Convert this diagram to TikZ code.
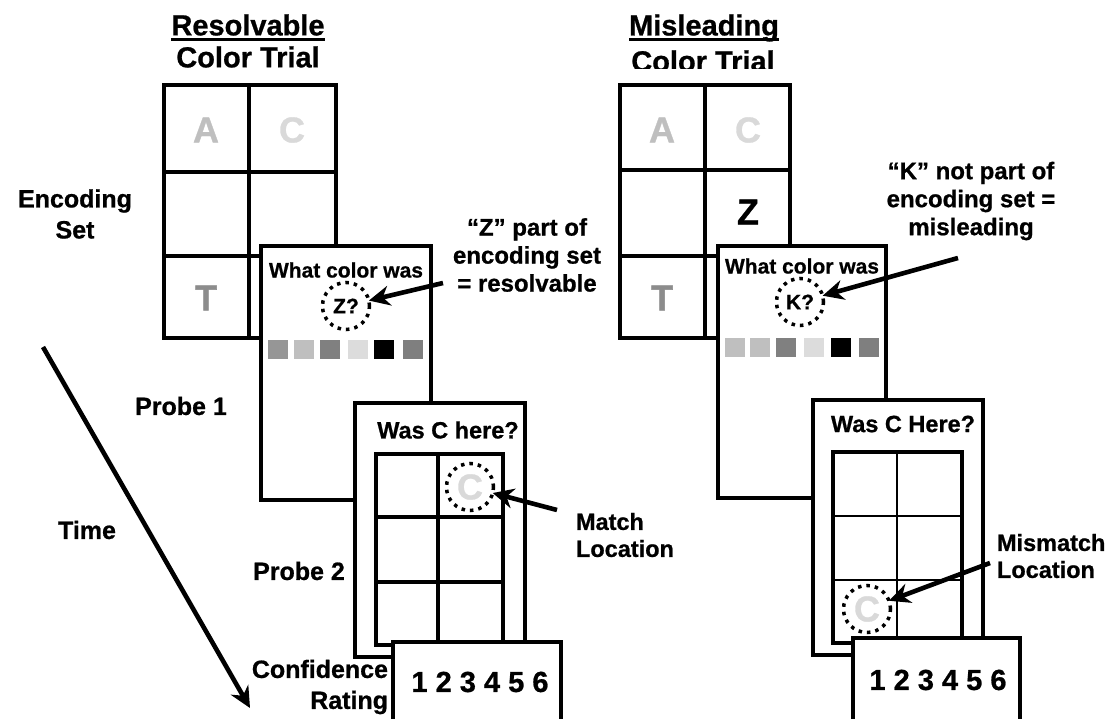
\documentclass[tikz,border=0pt]{standalone}
\usepackage{fontspec}
\setmainfont{Liberation Sans}[BoldFeatures={FakeBold=0.8}]
\usetikzlibrary{arrows.meta}
\definecolor{gA}{HTML}{BFBFBF}
\definecolor{gC}{HTML}{D9D9D9}
\definecolor{gT}{HTML}{8C8C8C}
\definecolor{sqa}{HTML}{969696}
\definecolor{sqb}{HTML}{BFBFBF}
\definecolor{sqc}{HTML}{808080}
\definecolor{sqd}{HTML}{DCDCDC}
\definecolor{sqf}{HTML}{7F7F7F}
\begin{document}
\begin{tikzpicture}[x=1pt,y=-1pt,
  every node/.style={inner sep=0pt, outer sep=0pt},
  panel/.style={draw, line width=4.4pt, fill=white, rectangle, anchor=north west},
  gl/.style={line width=4.4pt},
  thinl/.style={line width=2pt},
  dotc/.style={draw, circle, minimum size=47pt, line width=3.5pt, dash pattern=on 3.5pt off 5pt},
  arr/.style={line width=4.6pt, -{Stealth[length=21pt,width=20pt]}},
  ttl/.style={font=\fontsize{29}{34}\selectfont\bfseries},
  let/.style={font=\fontsize{36}{40}\selectfont\bfseries},
  qtext/.style={font=\fontsize{21}{25}\selectfont\bfseries},
  wtext/.style={font=\fontsize{23.5}{27}\selectfont\bfseries},
  nums/.style={font=\fontsize{29}{34}\selectfont\bfseries},
  side/.style={font=\fontsize{25}{31}\selectfont\bfseries},
  ann/.style={font=\fontsize{24}{28}\selectfont\bfseries, align=center},
  loc/.style={font=\fontsize{23.5}{27}\selectfont\bfseries, align=left, anchor=west}
]
\useasboundingbox (0,0) rectangle (1114,718);
\clip (0,0) rectangle (1114,718);

% ---------------- left: resolvable trial ----------------
\node[ttl] (tl1) at (248,25) {Resolvable};
\draw[line width=3pt] ([yshift=-4pt]tl1.base west) -- ([yshift=-4pt]tl1.base east);
\node[ttl] (tl2) at (248,57) {Color Trial};

\node[panel, minimum width=172pt, minimum height=253pt] (encL) at (164,85) {};
\draw[gl] (249,85) -- (249,338) (164,172) -- (336,172) (164,256) -- (336,256);
\node[let, text=gA] (aL) at (206,130) {A};
\node[let, text=gC] (cL0) at (292,130) {C};
\node[let, text=gT] (tL) at (206,298) {T};

\node[panel, minimum width=170pt, minimum height=254pt] (p1L) at (261,246) {};
\node[qtext] (qL) at (346,270) {What color was};
\node[qtext, dotc] (zc) at (346,306) {Z?};
\foreach \x/\c in {268/sqa,294/sqb,320/sqc,348/sqd,374/black,403/sqf}
  \fill[\c] (\x,340) rectangle ++(20,19);

\node[panel, minimum width=170pt, minimum height=254pt] (p2L) at (355,403) {};
\node[wtext] (wL) at (448,430) {Was C here?};
\draw[gl] (376,454) rectangle (503,645);
\draw[gl] (438,454) -- (438,645) (376,517) -- (503,517) (376,582) -- (503,582);
\node[let, text=gC] (cL) at (470,487) {C};
\node[dotc] (cLc) at (470,487) {};

\node[panel, minimum width=168pt, minimum height=95pt] (cfL) at (393,642) {};
\node[nums] (nL) at (480,682) {1 2 3 4 5 6};

\node[ann] (annL) at (527,255) {“Z” part of\\encoding set\\= resolvable};
\coordinate (zs) at (443,283);
\draw[arr] (zs) -- (zc);

\node[loc] (mL) at (576,535) {Match\\Location};
\coordinate (ms) at (557,510);
\draw[arr] (ms) -- (cLc);

% side labels
\node[side, align=center] (enc) at (75,214) {Encoding\\Set};
\node[side] (pr1) at (181,406) {Probe 1};
\node[side] (tim) at (87,530) {Time};
\node[side] (pr2) at (299,571) {Probe 2};
\node[side, align=right, anchor=east] (conf) at (388,687) {Confidence\\Rating};
\coordinate (t0) at (43,347);
\coordinate (t1) at (250,708);
\draw[arr] (t0) -- (t1);

% ---------------- right: misleading trial ----------------
\node[ttl] (tr1) at (704,28) {Misleading};
\draw[line width=3pt] ([yshift=-4pt]tr1.base west) -- ([yshift=-4pt]tr1.base east);
\begin{scope}
  \clip (600,40) rectangle (820,68);
  \node[ttl] (tr2) at (703,61) {Color Trial};
\end{scope}

\node[panel, minimum width=170pt, minimum height=253pt] (encR) at (620,85) {};
\draw[gl] (705,85) -- (705,338) (620,170) -- (790,170) (620,256) -- (790,256);
\node[let, text=gA] (aR) at (662,130) {A};
\node[let, text=gC] (cR0) at (748,130) {C};
\node[let] (zR) at (748,212) {Z};
\node[let, text=gT] (tR) at (662,298) {T};

\node[panel, minimum width=168pt, minimum height=252pt] (p1R) at (718,246) {};
\node[qtext] (qR) at (802,266) {What color was};
\node[qtext, dotc] (kc) at (800,302) {K?};
\foreach \x/\c in {725/sqb,750/sqb,776/sqc,804/sqd,831/black,859/sqf}
  \fill[\c] (\x,338) rectangle ++(20,19);

\node[panel, minimum width=170pt, minimum height=255pt] (p2R) at (813,400) {};
\node[wtext] (wR) at (903,424) {Was C Here?};
\draw[thinl] (897,452) -- (897,643) (833,516) -- (962,516) (833,580) -- (962,580);
\draw[gl] (833,452) rectangle (962,643);
\node[let, text=gC] (cR) at (867,609) {C};
\node[dotc] (cRc) at (867,609) {};

\node[panel, minimum width=167pt, minimum height=95pt] (cfR) at (853,638) {};
\node[nums] (nR) at (938,680) {1 2 3 4 5 6};

\node[ann] (annR) at (971,201) {“K” not part of\\encoding set =\\misleading};
\coordinate (ks) at (958,258);
\draw[arr] (ks) -- (kc);

\node[loc] (mR) at (997,556) {Mismatch\\Location};
\coordinate (mrs) at (990,563);
\draw[arr] (mrs) -- (cRc);
\end{tikzpicture}
\end{document}
